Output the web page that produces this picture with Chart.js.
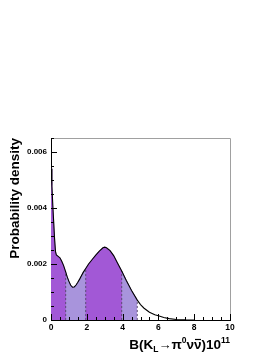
<!DOCTYPE html>
<html lang="en">
<head>
<meta charset="UTF-8">
<title>Probability density of B(KL)</title>
<script src="https://cdn.jsdelivr.net/npm/chart.js"></script>
<style>
  html, body { margin: 0; padding: 0; background: #fff; }
</style>
</head>
<body>
<canvas id="pdf" width="276" height="357"></canvas>
<script>
// curve: B(KL -> pi0 nu nubar) x 1e11 and its density
const bValues = [0, 0.05, 0.1, 0.15, 0.2, 0.25, 0.3, 0.4, 0.5, 0.6, 0.7, 0.82, 0.9, 1.0, 1.1, 1.2, 1.3,
  1.4, 1.5, 1.6, 1.7, 1.8, 1.94, 2.1, 2.3, 2.5, 2.7, 2.9, 3.0, 3.1, 3.3, 3.5, 3.7, 3.95, 4.2, 4.5, 4.82,
  5.0, 5.2, 5.5, 5.8, 6.0, 6.3, 6.6, 7.0, 7.5, 8.0];
const density = [0.0054, 0.0048, 0.0041, 0.0035, 0.0029, 0.00245, 0.00232, 0.00227, 0.00222, 0.0021,
  0.00195, 0.00172, 0.00155, 0.00138, 0.00124, 0.00117, 0.00118, 0.00125, 0.00135, 0.00146, 0.00158,
  0.0017, 0.00184, 0.002, 0.00216, 0.00232, 0.00246, 0.00258, 0.0026, 0.00258, 0.00248, 0.0023,
  0.00205, 0.00175, 0.00142, 0.00105, 0.00071, 0.00055, 0.00042, 0.00028, 0.00019, 0.00015, 0.00009,
  0.00005, 0.00002, 0.000005, 0];

// dark region spans the whole shaded range, light bands lie on top of it
const darkRange = [0, 4.82];
const darkColor = '#a258d6';
const lightBands = [[0.82, 1.94], [3.95, 4.82]];
const lightColor = '#a894dc';
const dashedEdges = [0.82, 1.94, 3.95, 4.82];

const xTicks = [0, 2, 4, 6, 8, 10];
const xTickLabels = ['0', '2', '4', '6', '8', '10'];
const yTicks = [0, 0.002, 0.004, 0.006];
const yTickLabels = ['0', '0.002', '0.004', '0.006'];
const xMinorStep = 0.5;
const yMinorStep = 0.0005;

const FONT = '"Liberation Sans", Arial, Helvetica, sans-serif';

const points = bValues.map((b, i) => ({x: b, y: density[i]}));
const between = (lo, hi) => points.filter(p => p.x >= lo && p.x <= hi);

const datasets = [];
datasets.push({
  data: between(darkRange[0], darkRange[1]),
  backgroundColor: darkColor,
  borderColor: darkColor,
  borderWidth: 0.5,
  fill: 'origin',
  pointRadius: 0,
  order: 4
});
lightBands.forEach(b => {
  datasets.push({
    data: between(b[0], b[1]),
    backgroundColor: lightColor,
    borderColor: lightColor,
    borderWidth: 0.5,
    fill: 'origin',
    pointRadius: 0,
    order: 3
  });
});
dashedEdges.forEach(e => {
  const k = bValues.indexOf(e);
  datasets.push({
    data: [{x: e, y: 0}, {x: e, y: density[k]}],
    borderColor: '#55476a',
    borderWidth: 0.9,
    borderDash: [2, 2],
    fill: false,
    pointRadius: 0,
    order: 2
  });
});
datasets.push({
  data: points,
  borderColor: '#000',
  borderWidth: 1.1,
  fill: false,
  pointRadius: 0,
  order: 1
});

// inward ticks, grey top/right frame, x title with sub/superscripts
const framePlugin = {
  id: 'frame',
  afterDatasetsDraw(chart) {
    const {ctx, chartArea: a, scales: {x, y}} = chart;
    ctx.save();
    ctx.strokeStyle = '#a0a0a0';
    ctx.lineWidth = 1;
    ctx.beginPath();
    ctx.moveTo(a.left, a.top + 0.5);
    ctx.lineTo(a.right + 0.5, a.top + 0.5);
    ctx.lineTo(a.right + 0.5, a.bottom);
    ctx.stroke();

    ctx.strokeStyle = '#000';
    ctx.beginPath();
    for (let v = x.min; v <= x.max + 1e-9; v += xMinorStep) {
      const px = Math.round(x.getPixelForValue(v)) + 0.5;
      const len = xTicks.some(t => Math.abs(t - v) < 1e-9) ? 6 : 3;
      ctx.moveTo(px, a.bottom);
      ctx.lineTo(px, a.bottom - len);
    }
    for (let v = y.min; v <= y.max + 1e-12; v += yMinorStep) {
      const py = Math.round(y.getPixelForValue(v)) + 0.5;
      const len = yTicks.some(t => Math.abs(t - v) < 1e-9) ? 6 : 3;
      ctx.moveTo(a.left, py);
      ctx.lineTo(a.left + len, py);
    }
    ctx.stroke();
    ctx.restore();
  },
  afterDraw(chart) {
    const {ctx, chartArea: a} = chart;
    const big = 'bold 13.5px ' + FONT;
    const small = 'bold 8.5px ' + FONT;
    const parts = [
      {t: 'B(K', f: big, dy: 0},
      {t: 'L', f: small, dy: 3},
      {t: '\u2192', f: '13px ' + FONT, dy: 0},
      {t: '\u03c0', f: big, dy: 0},
      {t: '0', f: small, dy: -6},
      {t: '\u03bd', f: big, dy: 0},
      {t: '\u03bd', f: big, dy: 0, bar: true},
      {t: ')10', f: big, dy: 0},
      {t: '11', f: small, dy: -6.5}
    ];
    ctx.save();
    let total = 0;
    parts.forEach(p => { ctx.font = p.f; p.w = ctx.measureText(p.t).width; total += p.w; });
    let cx = a.right - total;
    const base = a.bottom + 29;
    ctx.fillStyle = '#000';
    ctx.strokeStyle = '#000';
    ctx.textBaseline = 'alphabetic';
    ctx.textAlign = 'left';
    parts.forEach(p => {
      ctx.font = p.f;
      ctx.fillText(p.t, cx, base + p.dy);
      if (p.bar) {
        ctx.lineWidth = 1.2;
        ctx.beginPath();
        ctx.moveTo(cx + 1, base - 9.5);
        ctx.lineTo(cx + p.w - 0.5, base - 9.5);
        ctx.stroke();
      }
      cx += p.w;
    });
    ctx.restore();
  }
};

new Chart(document.getElementById('pdf'), {
  type: 'line',
  data: {datasets: datasets},
  plugins: [framePlugin],
  options: {
    responsive: false,
    animation: false,
    layout: {padding: {top: 138, right: 46, left: 0, bottom: 0}},
    plugins: {legend: {display: false}, tooltip: {enabled: false}},
    elements: {line: {tension: 0}},
    scales: {
      x: {
        type: 'linear',
        min: 0,
        max: 10,
        grid: {display: false, drawTicks: false},
        border: {display: true, color: '#000', width: 1},
        afterBuildTicks: s => { s.ticks = xTicks.map(v => ({value: v})); },
        afterFit: s => { s.height = 37; },
        ticks: {
          padding: 2.5,
          color: '#000',
          maxRotation: 0,
          font: {family: FONT, size: 8.5, weight: 'bold'},
          callback: v => xTickLabels[xTicks.indexOf(v)]
        }
      },
      y: {
        type: 'linear',
        min: 0,
        max: 0.0065,
        grid: {display: false, drawTicks: false},
        border: {display: true, color: '#000', width: 1},
        afterBuildTicks: s => { s.ticks = yTicks.map(v => ({value: v})); },
        afterFit: s => { s.width = 51; },
        title: {
          display: true,
          text: 'Probability density',
          align: 'end',
          color: '#000',
          padding: {top: 7.5, bottom: 0},
          font: {family: FONT, size: 13.5, weight: 'bold'}
        },
        ticks: {
          padding: 4,
          color: '#000',
          font: {family: FONT, size: 8, weight: 'bold'},
          callback: v => yTickLabels[yTicks.indexOf(v)]
        }
      }
    }
  }
});
</script>
</body>
</html>
